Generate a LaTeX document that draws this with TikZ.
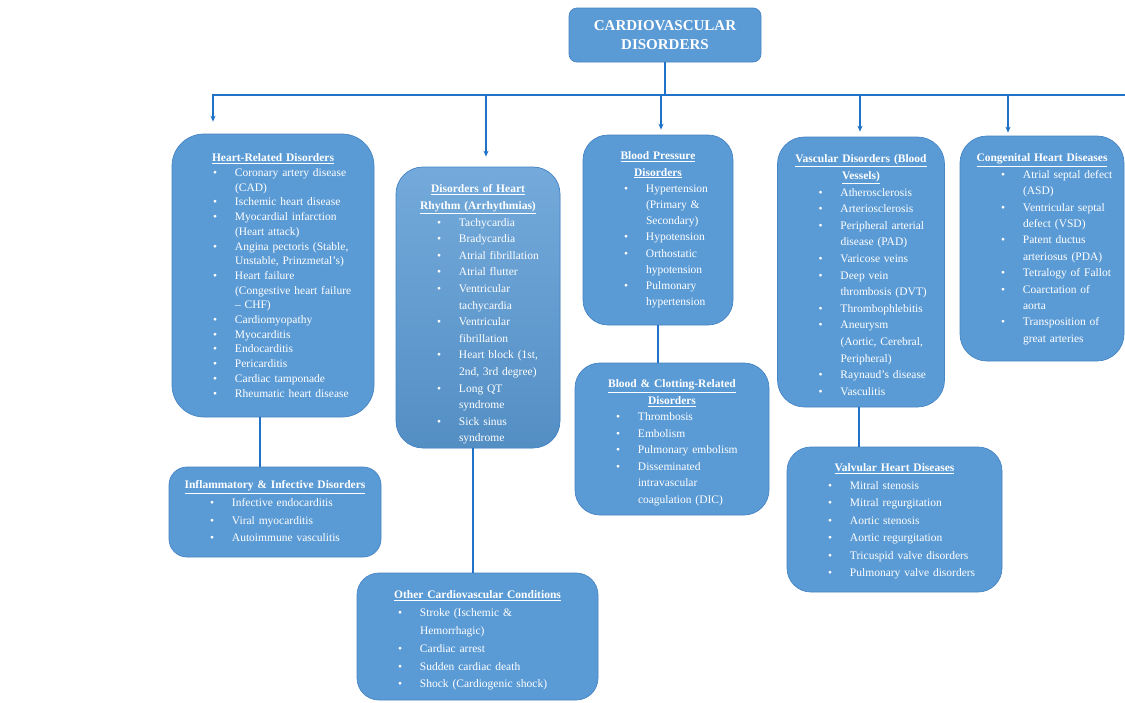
\documentclass[tikz,border=0pt]{standalone}
\usepackage{fontspec}
\setmainfont{Liberation Serif}
\usetikzlibrary{positioning,arrows.meta}

\definecolor{boxfill}{RGB}{91,155,213}
\definecolor{boxedge}{RGB}{70,132,196}
\definecolor{linkblue}{RGB}{32,114,200}

% bullet list inside the boxes
\newlength{\bulpos}\setlength{\bulpos}{51pt}
\newlength{\bulind}\setlength{\bulind}{73pt}
\newcommand{\bul}[1]{\par\hangindent=\bulind\hangafter=1\noindent\hbox to\bulind{\hskip\bulpos\textbullet\hfil}#1\par}
\newcommand{\hd}[1]{{\noindent\centering\textbf{\underline{#1}}\par}}

\begin{document}
\begin{tikzpicture}[x=1pt,y=-1pt,
                        grp/.style={draw=boxedge,line width=0.7pt,fill=boxfill,inner sep=0pt},
                        txt/.style={text=white,inner sep=0pt,align=left},
                        link/.style={linkblue,line width=1.3pt},
                        bus/.style={linkblue,line width=1.6pt,-{Stealth[length=6pt,width=5pt]}}
                        ]
                        \useasboundingbox[fill=white] (0,0) rectangle (1125,702);

                        % boxes
                        \node[grp,rounded corners=8,minimum width=192,minimum height=54,text=white,align=center,
                              font=\fontsize{15}{19}\selectfont\bfseries] (root) at (665,35) {CARDIOVASCULAR\\DISORDERS};
                        \node[grp,rounded corners=32,minimum width=202,minimum height=283] (heart) at (273,275.5) {};
                        \node[grp,rounded corners=27,minimum width=164,minimum height=281,
                              top color=boxfill!85!white,bottom color=boxfill!92!black] (rhythm) at (478,307.5) {};
                        \node[grp,rounded corners=25,minimum width=150,minimum height=190] (press) at (658,230) {};
                        \node[grp,rounded corners=27,minimum width=167,minimum height=270] (vasc) at (861,272) {};
                        \node[grp,rounded corners=27,minimum width=164,minimum height=225] (congen) at (1042,248.5) {};
                        \node[grp,rounded corners=18,minimum width=212,minimum height=90] (inflam) at (275,512) {};
                        \node[grp,rounded corners=25,minimum width=194,minimum height=152] (clot) at (672,439) {};
                        \node[grp,rounded corners=24,minimum width=215,minimum height=145] (valve) at (894.5,519.5) {};
                        \node[grp,rounded corners=22,minimum width=241,minimum height=127] (other) at (477.5,636.5) {};

                        % texts
                        \node[txt,text width=222,font=\fontsize{11.5}{14.7}\selectfont,below=20pt of heart.north] (heartT) {%
                          \hd{Heart-Related Disorders}
                          \bul{Coronary artery disease\newline (CAD)}
                          \bul{Ischemic heart disease}
                          \bul{Myocardial infarction\newline (Heart attack)}
                          \bul{Angina pectoris (Stable,\newline Unstable, Prinzmetal's)}
                          \bul{Heart failure\newline (Congestive heart failure\newline -- CHF)}
                          \bul{Cardiomyopathy}
                          \bul{Myocarditis}
                          \bul{Endocarditis}
                          \bul{Pericarditis}
                          \bul{Cardiac tamponade}
                          \bul{Rheumatic heart disease}};
                        \node[txt,text width=184,font=\fontsize{11.5}{16.6}\selectfont,below=18pt of rhythm.north] (rhythmT) {%
                          \hd{Disorders of Heart}
                          \hd{Rhythm (Arrhythmias)}
                          \bul{Tachycardia}
                          \bul{Bradycardia}
                          \bul{Atrial fibrillation}
                          \bul{Atrial flutter}
                          \bul{Ventricular\newline tachycardia}
                          \bul{Ventricular\newline fibrillation}
                          \bul{Heart block (1st,\newline 2nd, 3rd degree)}
                          \bul{Long QT\newline syndrome}
                          \bul{Sick sinus\newline syndrome}};
                        \node[txt,text width=170,font=\fontsize{11.5}{16.2}\selectfont,below=17pt of press.north] (pressT) {%
                          \hd{Blood Pressure}
                          \hd{Disorders}
                          \bul{Hypertension\newline (Primary \&\newline Secondary)}
                          \bul{Hypotension}
                          \bul{Orthostatic\newline hypotension}
                          \bul{Pulmonary\newline hypertension}};
                        \node[txt,text width=187,font=\fontsize{11.5}{16.6}\selectfont,below=18pt of vasc.north] (vascT) {%
                          \hd{Vascular Disorders (Blood}
                          \hd{Vessels)}
                          \bul{Atherosclerosis}
                          \bul{Arteriosclerosis}
                          \bul{Peripheral arterial\newline disease (PAD)}
                          \bul{Varicose veins}
                          \bul{Deep vein\newline thrombosis (DVT)}
                          \bul{Thrombophlebitis}
                          \bul{Aneurysm\newline (Aortic, Cerebral,\newline Peripheral)}
                          \bul{Raynaud's disease}
                          \bul{Vasculitis}};
                        \node[txt,text width=184,font=\fontsize{11.5}{16.4}\selectfont,below=18pt of congen.north] (congenT) {%
                          \hd{Congenital Heart Diseases}
                          \bul{Atrial septal defect\newline (ASD)}
                          \bul{Ventricular septal\newline defect (VSD)}
                          \bul{Patent ductus\newline arteriosus (PDA)}
                          \bul{Tetralogy of Fallot}
                          \bul{Coarctation of\newline aorta}
                          \bul{Transposition of\newline great arteries}};
                        \node[txt,text width=232,font=\fontsize{11.5}{17.6}\selectfont,below=14pt of inflam.north] (inflamT) {%
                          \hd{Inflammatory \& Infective Disorders}
                          \bul{Infective endocarditis}
                          \bul{Viral myocarditis}
                          \bul{Autoimmune vasculitis}};
                        \node[txt,text width=214,font=\fontsize{11.5}{16.5}\selectfont,below=17pt of clot.north] (clotT) {%
                          \hd{Blood \& Clotting-Related}
                          \hd{Disorders}
                          \bul{Thrombosis}
                          \bul{Embolism}
                          \bul{Pulmonary embolism}
                          \bul{Disseminated\newline intravascular\newline coagulation (DIC)}};
                        \node[txt,text width=235,font=\fontsize{11.5}{17.5}\selectfont,below=17pt of valve.north] (valveT) {%
                          \hd{Valvular Heart Diseases}
                          \bul{Mitral stenosis}
                          \bul{Mitral regurgitation}
                          \bul{Aortic stenosis}
                          \bul{Aortic regurgitation}
                          \bul{Tricuspid valve disorders}
                          \bul{Pulmonary valve disorders}};
                        \node[txt,text width=261,font=\fontsize{11.5}{17.8}\selectfont,below=18pt of other.north] (otherT) {%
                          \hd{Other Cardiovascular Conditions}
                          \bul{Stroke (Ischemic \&\newline Hemorrhagic)}
                          \bul{Cardiac arrest}
                          \bul{Sudden cardiac death}
                          \bul{Shock (Cardiogenic shock)}};

                        % top bus with arrows
                        \coordinate (b1) at (213,95);
                        \coordinate (b2) at (486,95);
                        \coordinate (b3) at (661,95);
                        \coordinate (b4) at (860,95);
                        \coordinate (b5) at (1008,95);
                        \coordinate (bend) at (1125,95);
                        \draw[link] (root.south) -- (root.south |- b1);
                        \draw[bus,shorten >=12] (bend) -- (b1) -- (b1 |- heart.north);
                        \draw[bus,shorten >=10] (b2) -- (b2 |- rhythm.north);
                        \draw[bus,shorten >=5] (b3) -- (b3 |- press.north);
                        \draw[bus,shorten >=5] (b4) -- (b4 |- vasc.north);
                        \draw[bus,shorten >=3] (b5) -- (b5 |- congen.north);

                        % lower links
                        \coordinate (hdrop) at ([xshift=-13pt]heart.south);
                        \coordinate (rdrop) at ([xshift=-5pt]rhythm.south);
                        \coordinate (vdrop) at ([xshift=-2pt]vasc.south);
                        \draw[link] (hdrop) -- (hdrop |- inflam.north);
                        \draw[link] (rdrop) -- (rdrop |- other.north);
                        \draw[link] (press.south) -- (press.south |- clot.north);
                        \draw[link] (vdrop) -- (vdrop |- valve.north);
                \end{tikzpicture}
\end{document}
